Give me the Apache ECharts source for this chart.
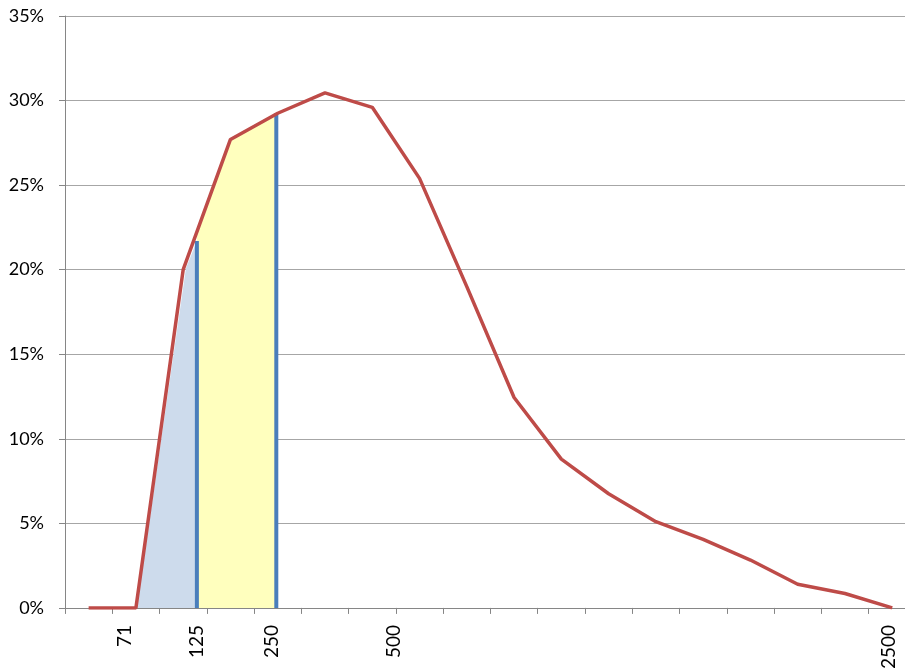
<!DOCTYPE html>
<html>
<head>
<meta charset="utf-8">
<title>Distribution</title>
<script src="https://cdn.jsdelivr.net/npm/echarts@6/dist/echarts.min.js"></script>
<style>
  html, body { margin: 0; padding: 0; background: #fff; }
  #chart { width: 905px; height: 672px; }
</style>
</head>
<body>
<div id="chart"></div>
<script>
// curve values (%) at the centre of each size class
var classValues = [0, 0, 20.0, 27.7, 29.25, 30.45, 29.6, 25.4, 19.0, 12.44, 8.8, 6.75, 5.1, 4.05, 2.83, 1.4, 0.85, 0];

// x-axis labels and where they sit (in class units)
var sizeLabels = ['71', '125', '250', '500', '2500'];
var sizeLabelPos = [1.27, 2.8, 4.37, 6.95, 17.42];

// shaded part below the first cut
var blueX = [1.52, 2.56, 2.79];
var blueY = [0, 20.1, 21.7];

// shaded part between the two cuts
var yellowX = [2.79, 3.5, 4.47];
var yellowY = [22.2, 27.7, 29.25];

// cut lines
var cutX = [2.79, 4.47];
var cutTop = [21.7, 29.25];

var pts = function (xs, ys) {
  return xs.map(function (x, i) { return [x, ys[i]]; });
};

var curve = classValues.map(function (v, i) { return [i + 0.5, v]; });
var tickVals = classValues.map(function (v, i) { return i; });

var labelFor = {};
sizeLabelPos.forEach(function (p, i) { labelFor[p] = sizeLabels[i]; });

var cutSeries = cutX.map(function (x, i) {
  return {
    type: 'line',
    data: [[x, 0], [x, cutTop[i]]],
    symbol: 'none',
    lineStyle: { color: '#4a7ebb', width: 4 },
    z: 3
  };
});

var myChart = echarts.init(document.getElementById('chart'));

myChart.setOption({
  animation: false,
  grid: { left: 65, right: 0, top: 16, bottom: 63 },
  xAxis: {
    type: 'value',
    min: 0,
    max: 17.77,
    interval: 1,
    axisLine: { lineStyle: { color: '#868686', width: 1 } },
    axisTick: { show: true, length: 6, customValues: tickVals, lineStyle: { color: '#868686' } },
    splitLine: { show: false },
    axisLabel: {
      customValues: sizeLabelPos,
      rotate: 90,
      margin: 17,
      color: '#000',
      fontFamily: 'Lato',
      fontSize: 19,
      formatter: function (v) { return labelFor[v] || ''; }
    }
  },
  yAxis: {
    type: 'value',
    min: 0,
    max: 35,
    interval: 5,
    axisLine: { show: true, lineStyle: { color: '#868686', width: 1 } },
    axisTick: { show: true, length: 6, lineStyle: { color: '#868686' } },
    splitLine: { lineStyle: { color: '#a6a6a6', width: 1 } },
    axisLabel: {
      margin: 21,
      color: '#000',
      fontFamily: 'Lato',
      fontSize: 18,
      formatter: '{value}%'
    }
  },
  series: [
    {
      type: 'line',
      data: pts(blueX, blueY),
      symbol: 'none',
      lineStyle: { width: 0 },
      areaStyle: { color: '#cddbec', opacity: 1 },
      z: 1
    },
    {
      type: 'line',
      data: pts(yellowX, yellowY),
      symbol: 'none',
      lineStyle: { width: 0 },
      areaStyle: { color: '#ffffbe', opacity: 1 },
      z: 1
    }
  ].concat(cutSeries).concat([
    {
      type: 'line',
      data: curve,
      symbol: 'none',
      lineStyle: { color: '#be4b48', width: 3.5 },
      z: 4
    }
  ])
});
</script>
</body>
</html>
